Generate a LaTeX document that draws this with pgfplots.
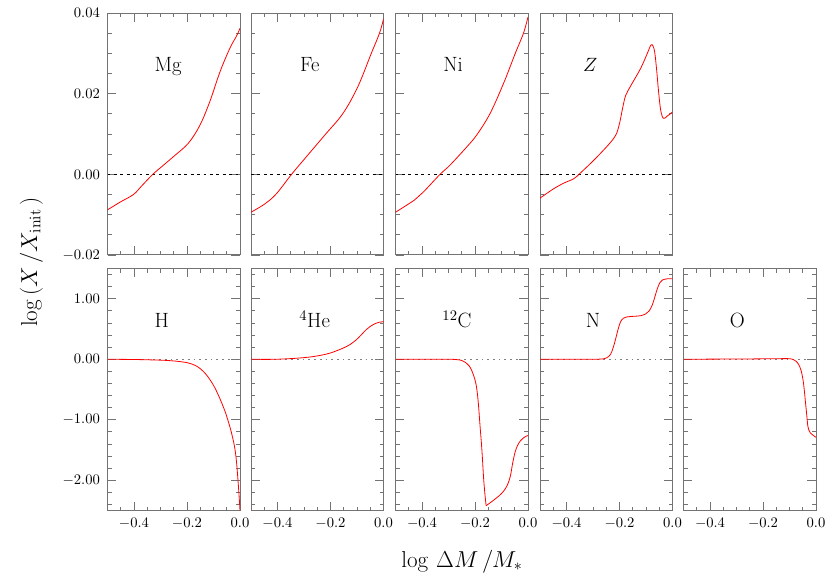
\documentclass[border=0pt]{standalone}
\usepackage{pgfplots}
\pgfplotsset{compat=1.18}
\definecolor{framegray}{gray}{0.45}
\definecolor{zerogray}{gray}{0.5}
\tikzset{elem/.style={font=\fontsize{15.5}{18}\selectfont, anchor=base}}
\pgfplotsset{
  panel/.style={
    scale only axis, width=99.375pt, height=181.5pt,
    xmin=-0.5, xmax=0, xtick={-0.4,-0.2,0},
    minor xtick={-0.45,-0.35,-0.3,-0.25,-0.15,-0.1,-0.05},
    axis line style={framegray, line width=0.75pt},
    every tick/.style={framegray, line width=0.65pt},
    major tick length=6.4pt, minor tick length=3pt,
    tick align=inside, xtick pos=both, ytick pos=both,
    xticklabel pos=bottom, yticklabel pos=left,
    scaled y ticks=false, scaled x ticks=false,
    tick label style={font=\fontsize{11}{13}\selectfont},
    xticklabel style={/pgf/number format/fixed, /pgf/number format/fixed zerofill, /pgf/number format/precision=1, yshift=-2.2pt},
    yticklabel style={/pgf/number format/fixed, /pgf/number format/fixed zerofill, /pgf/number format/precision=2, xshift=-2.2pt},
    clip=true, anchor=north west,
  },
  toprow/.style={panel, ymin=-0.02, ymax=0.04, ytick={-0.02,0,0.02,0.04},
    minor ytick={-0.015,-0.01,-0.005,0.005,0.01,0.015,0.025,0.03,0.035},
    xticklabels={}},
  botrow/.style={panel, ymin=-2.5, ymax=1.5, ytick={-2,-1,0,1},
    minor ytick={-2.4,-2.2,-1.8,-1.6,-1.4,-1.2,-0.8,-0.6,-0.4,-0.2,0.2,0.4,0.6,0.8,1.2,1.4}},
  noy/.style={yticklabels={}},
  curve/.style={red, line width=0.6pt, smooth, tension=0.55},
  topzero/.style={black, line width=0.45pt, dash pattern=on 2.2pt off 2.6pt},
  botzero/.style={zerogray, line width=1.1pt, dash pattern=on 1.3pt off 3pt},
}
\begin{document}
\begin{tikzpicture}
\path[use as bounding box] (0pt,0pt) rectangle (622.5pt,-433.5pt);

% ---------- top row ----------
\begin{axis}[toprow, at={(80.625pt,-9.75pt)}]
\addplot[topzero] coordinates {(-0.5,0) (0,0)};
\addplot[curve] coordinates {(-0.5,-0.0088) (-0.45,-0.0068) (-0.402,-0.0050) (-0.37,-0.0028) (-0.329,0.0) (-0.29,0.0022) (-0.251,0.0044) (-0.195,0.0077) (-0.151,0.0122) (-0.113,0.0182) (-0.075,0.0255) (-0.038,0.0313) (-0.013,0.0343) (0,0.0362)};
\node[elem] at (rel axis cs:0.458,0.757) {Mg};
\end{axis}

\begin{axis}[toprow, noy, at={(188.25pt,-9.75pt)}]
\addplot[topzero] coordinates {(-0.5,0) (0,0)};
\addplot[curve] coordinates {(-0.5,-0.0094) (-0.447,-0.0073) (-0.404,-0.0048) (-0.347,0) (-0.297,0.0039) (-0.222,0.0097) (-0.153,0.0151) (-0.097,0.0217) (-0.046,0.030) (-0.015,0.035) (0,0.0385)};
\node[elem] at (rel axis cs:0.444,0.757) {Fe};
\end{axis}

\begin{axis}[toprow, noy, at={(296.625pt,-9.75pt)}]
\addplot[topzero] coordinates {(-0.5,0) (0,0)};
\addplot[curve] coordinates {(-0.5,-0.0094) (-0.427,-0.0063) (-0.395,-0.0044) (-0.332,0) (-0.294,0.0023) (-0.231,0.0068) (-0.193,0.0098) (-0.143,0.0151) (-0.092,0.0226) (-0.048,0.030) (-0.017,0.035) (0,0.039)};
\node[elem] at (rel axis cs:0.434,0.757) {Ni};
\end{axis}

\begin{axis}[toprow, noy, at={(405pt,-9.75pt)}]
\addplot[topzero] coordinates {(-0.5,0) (0,0)};
\addplot[curve] coordinates {(-0.5,-0.0059) (-0.449,-0.0036) (-0.411,-0.0022) (-0.373,-0.0011) (-0.348,0.0003) (-0.285,0.0043) (-0.222,0.0089) (-0.203,0.0118) (-0.188,0.0165) (-0.177,0.0195) (-0.158,0.0219) (-0.120,0.0263) (-0.095,0.030) (-0.082,0.0320) (-0.074,0.0319) (-0.067,0.0302) (-0.060,0.026) (-0.054,0.0215) (-0.046,0.0165) (-0.038,0.0142) (-0.030,0.0139) (-0.019,0.0145) (-0.008,0.0150) (0,0.0155)};
\node[elem] at (rel axis cs:0.38,0.757) {$Z$};
\end{axis}

% ---------- bottom row ----------
\begin{axis}[botrow, at={(80.625pt,-201.375pt)}]
\addplot[botzero] coordinates {(-0.5,0) (0,0)};
\addplot[curve] coordinates {(-0.5,0) (-0.4,-0.004) (-0.3,-0.015) (-0.25,-0.028) (-0.2,-0.056) (-0.17,-0.10) (-0.15,-0.155) (-0.13,-0.24) (-0.113,-0.34) (-0.095,-0.47) (-0.075,-0.66) (-0.055,-0.88) (-0.038,-1.12) (-0.028,-1.29) (-0.020,-1.46) (-0.014,-1.66) (-0.009,-1.92) (-0.004,-2.22) (0,-2.5)};
\node[elem] at (rel axis cs:0.41,0.755) {H};
\end{axis}

\begin{axis}[botrow, noy, at={(188.25pt,-201.375pt)}]
\addplot[botzero] coordinates {(-0.5,0) (0,0)};
\addplot[curve] coordinates {(-0.5,0) (-0.44,-0.002) (-0.391,0.002) (-0.328,0.017) (-0.266,0.044) (-0.203,0.10) (-0.140,0.21) (-0.103,0.32) (-0.065,0.49) (-0.040,0.57) (-0.018,0.61) (0,0.62)};
\node[elem] at (rel axis cs:0.48,0.755) {$^{4}$He};
\end{axis}

\begin{axis}[botrow, noy, at={(296.625pt,-201.375pt)}]
\addplot[botzero] coordinates {(-0.5,0) (0,0)};
\addplot[curve] coordinates {(-0.5,0) (-0.4,0) (-0.3,0) (-0.269,-0.006) (-0.25,-0.02) (-0.237,-0.05) (-0.222,-0.11) (-0.212,-0.19) (-0.200,-0.34) (-0.193,-0.50) (-0.187,-0.75) (-0.181,-1.10) (-0.174,-1.50) (-0.167,-2.00) (-0.161,-2.30) (-0.158,-2.42)};
\addplot[curve] coordinates {(-0.158,-2.42) (-0.145,-2.38) (-0.130,-2.33) (-0.110,-2.26) (-0.092,-2.18) (-0.078,-2.08) (-0.067,-1.94) (-0.058,-1.72) (-0.049,-1.54) (-0.040,-1.43) (-0.029,-1.35) (-0.014,-1.29) (0,-1.26)};
\node[elem] at (rel axis cs:0.464,0.755) {$^{12}$C};
\end{axis}

\begin{axis}[botrow, noy, at={(405pt,-201.375pt)}]
\addplot[botzero] coordinates {(-0.5,0) (0,0)};
\addplot[curve] coordinates {(-0.5,0) (-0.4,0) (-0.3,0) (-0.265,0.005) (-0.248,0.025) (-0.234,0.08) (-0.224,0.19) (-0.215,0.33) (-0.205,0.50) (-0.196,0.62) (-0.185,0.68) (-0.172,0.70) (-0.146,0.71) (-0.120,0.72) (-0.101,0.75) (-0.088,0.80) (-0.076,0.90) (-0.066,1.04) (-0.057,1.17) (-0.047,1.27) (-0.038,1.31) (-0.02,1.33) (0,1.33)};
\node[elem] at (rel axis cs:0.40,0.755) {N};
\end{axis}

\begin{axis}[botrow, noy, at={(512.625pt,-201.375pt)}]
\addplot[botzero] coordinates {(-0.5,0) (0,0)};
\addplot[curve] coordinates {(-0.5,0) (-0.4,0.002) (-0.3,0.004) (-0.2,0.007) (-0.130,0.01) (-0.105,0.01) (-0.088,0.0) (-0.076,-0.03) (-0.065,-0.09) (-0.056,-0.19) (-0.049,-0.34) (-0.044,-0.52) (-0.040,-0.70) (-0.035,-0.92) (-0.031,-1.10) (-0.026,-1.18) (-0.021,-1.22) (-0.010,-1.26) (0,-1.29)};
\node[elem] at (rel axis cs:0.406,0.755) {O};
\end{axis}

% axis titles
\node[anchor=base, font=\fontsize{18}{22}\selectfont] at (346.5pt,-425.25pt) {$\log\,\Delta M\,/M_{*}$};
\node[anchor=base, rotate=90, font=\fontsize{18.5}{22}\selectfont] at (27.75pt,-196.5pt) {$\log\,(X\,/X_{\mathrm{init}}\,)$};
\end{tikzpicture}
\end{document}
